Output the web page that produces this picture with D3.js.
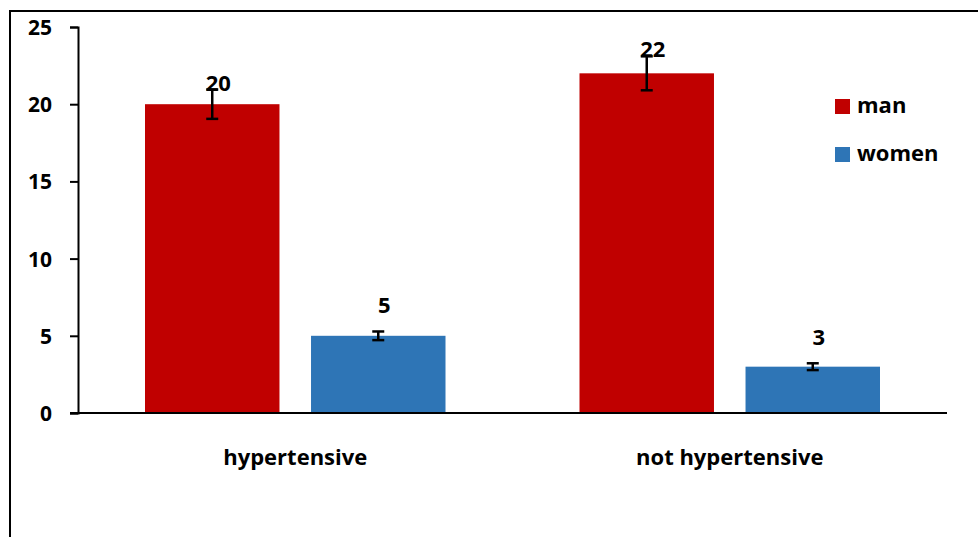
<!DOCTYPE html>
<html>
<head>
<meta charset="utf-8">
<script src="https://cdn.jsdelivr.net/npm/d3@7"></script>
<style>
  body { margin: 0; background: #fff; }
  text { font-family: "Open Sans", sans-serif; font-weight: bold; fill: #000; }
</style>
</head>
<body>
<div id="chart"></div>
<script>
// chart data
const categories = ["hypertensive", "not hypertensive"]
const seriesNames = ["man", "women"]
const manValues = [20, 22]
const womenValues = [5, 3]
const manErrors = [0.95, 1.1]
const womenErrors = [0.28, 0.22]
const yTicks = [0, 5, 10, 15, 20, 25]

const colors = {man: "#C00000", women: "#2E75B6"}

const width = 978, height = 537
const margin = {top: 27, left: 78, right: 31, bottom: 124}

const svg = d3.select("#chart")
    .append("svg")
    .attr("width", width)
    .attr("height", height)

// outer frame (only left and top visible)
svg.append("path")
    .attr("d", `M10,${height + 5} L10,11 L${width + 5},11`)
    .attr("fill", "none")
    .attr("stroke", "#000")
    .attr("stroke-width", 2)

const x0 = d3.scaleBand()
    .domain(categories)
    .range([margin.left, width - margin.right])

const x1 = d3.scaleBand()
    .domain(seriesNames)
    .range([67, x0.bandwidth() - 67])
    .paddingInner(0.19)

const y = d3.scaleLinear()
    .domain([0, 25])
    .range([height - margin.bottom, margin.top])

const rows = categories.map((c, i) => ({
    category: c,
    bars: [
        {series: "man", value: manValues[i], err: manErrors[i]},
        {series: "women", value: womenValues[i], err: womenErrors[i]},
    ]
}))

const groups = svg.selectAll("g.cat")
    .data(rows)
    .enter()
    .append("g")
    .attr("class", "cat")
    .attr("transform", d => `translate(${x0(d.category)},0)`)

groups.selectAll("rect")
    .data(d => d.bars)
    .enter()
    .append("rect")
    .attr("x", d => x1(d.series))
    .attr("y", d => y(d.value))
    .attr("width", x1.bandwidth())
    .attr("height", d => y(0) - y(d.value))
    .attr("fill", d => colors[d.series])

// error bars
const errs = groups.selectAll("g.err")
    .data(d => d.bars)
    .enter()
    .append("g")
    .attr("class", "err")
    .attr("transform", d => `translate(${x1(d.series) + x1.bandwidth() / 2},0)`)

errs.append("line")
    .attr("y1", d => y(d.value - d.err))
    .attr("y2", d => y(d.value + d.err))
    .attr("stroke", "#000").attr("stroke-width", 2.5)
errs.append("line")
    .attr("x1", -6).attr("x2", 6)
    .attr("y1", d => y(d.value - d.err))
    .attr("y2", d => y(d.value - d.err))
    .attr("stroke", "#000").attr("stroke-width", 2.5)
errs.append("line")
    .attr("x1", -6).attr("x2", 6)
    .attr("y1", d => y(d.value + d.err))
    .attr("y2", d => y(d.value + d.err))
    .attr("stroke", "#000").attr("stroke-width", 2.5)

// value labels
groups.selectAll("text.val")
    .data(d => d.bars)
    .enter()
    .append("text")
    .attr("class", "val")
    .attr("x", d => x1(d.series) + x1.bandwidth() / 2 + 6)
    .attr("y", d => y(d.value + d.err) + (d.series === "women" ? -18 : 1))
    .attr("text-anchor", "middle")
    .style("font-size", "22px")
    .text(d => d.value)

// y axis
const yAxis = svg.append("g")
    .attr("transform", `translate(${margin.left},0)`)
    .call(d3.axisLeft(y).tickValues(yTicks).tickSize(8).tickPadding(18))
yAxis.select(".domain").attr("stroke", "#000").attr("stroke-width", 2)
yAxis.selectAll(".tick line").attr("stroke", "#000").attr("stroke-width", 2)
yAxis.selectAll(".tick text")
    .style("font-size", "21px")
    .style("font-family", "'Open Sans', sans-serif")
    .attr("dy", "0.36em")

// x axis
const xAxis = svg.append("g")
    .attr("transform", `translate(0,${y(0)})`)
    .call(d3.axisBottom(x0).tickSize(0).tickPadding(36))
xAxis.select(".domain").attr("stroke", "#000").attr("stroke-width", 2)
    .attr("d", `M${margin.left - 8},0H${width - margin.right}`)
xAxis.selectAll(".tick text")
    .style("font-size", "22px")
    .style("font-family", "'Open Sans', sans-serif")

// legend
const legend = svg.selectAll("g.legend")
    .data(seriesNames)
    .enter()
    .append("g")
    .attr("class", "legend")
    .attr("transform", (d, i) => `translate(835,${99 + i * 48})`)
legend.append("rect")
    .attr("width", 15).attr("height", 15)
    .attr("fill", d => colors[d])
legend.append("text")
    .attr("x", 22).attr("y", 14)
    .style("font-size", "22px")
    .text(d => d)
</script>
</body>
</html>
